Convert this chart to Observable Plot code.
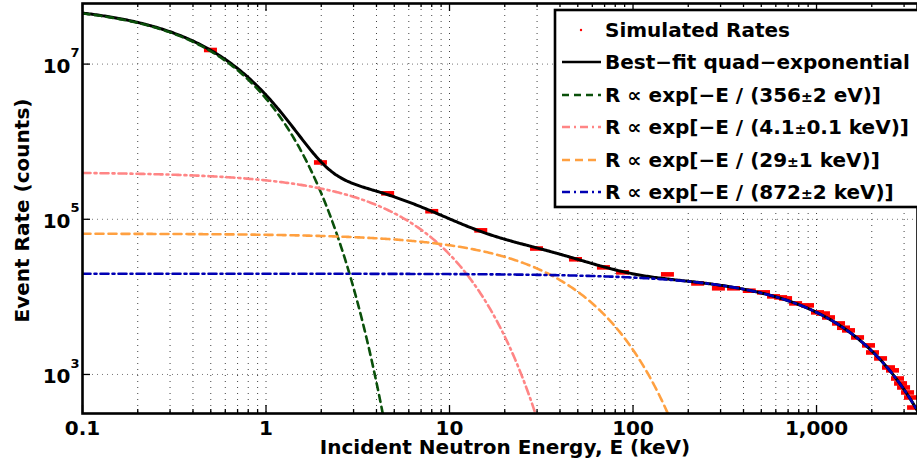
<!DOCTYPE html>
<html><head><meta charset="utf-8">
<script src="https://cdn.jsdelivr.net/npm/d3@7"></script>
<script src="https://cdn.jsdelivr.net/npm/@observablehq/plot@0.6"></script>
<style>
body{margin:0;background:#fff;}
#wrap{position:relative;width:917px;height:475px;font-family:"DejaVu Sans",sans-serif;}
#legend{position:absolute;left:0;top:0;pointer-events:none;}
</style>
</head><body><div id="wrap"></div>
<script>
// Simulated rates
const simEnergy = [0.498, 1.98, 4.6, 8.0, 14.8, 29.8, 48.6, 69, 87.7, 154, 225, 292, 353, 430, 514, 583, 637, 678, 769, 893, 1012, 1091, 1162, 1318, 1403, 1494, 1673, 1920, 2019, 2233, 2468, 2595, 2762, 2870, 2980, 3133, 3252, 3379];
const simRate   = [1.52e7, 5.4e5, 2.16e5, 1.27e5, 7.2e4, 4.2e4, 3.05e4, 2.4e4, 2.07e4, 1.95e4, 1.49e4, 1.29e4, 1.29e4, 1.2e4, 1.143e4, 1.015e4, 9850, 9560, 8240, 7770, 6310, 6100, 5430, 4550, 4000, 3700, 3000, 2370, 1920, 1610, 1230, 1130, 887, 766, 680, 586, 505, 375];

// Fit components: R = A exp(-E / T)
const compLabels    = ["R \u221D exp[\u2212E / (356\u00B12 eV)]", "R \u221D exp[\u2212E / (4.1\u00B10.1 keV)]", "R \u221D exp[\u2212E / (29\u00B11 keV)]", "R \u221D exp[\u2212E / (872\u00B12 keV)]"];
const compAmplitude = [5.96e7, 4.05e5, 6.53e4, 1.99e4];
const compDecayKeV  = [0.356, 4.1, 29, 872];
const compColors    = ["#0a500a", "#ff8585", "#ffa040", "#0000b4"];
const compDash      = ["7,5", "8,4,2,4", "8,5", "8,4,2,4"];

const seriesLabels = ["Simulated Rates", "Best\u2212fit quad\u2212exponential"];

// Ticks
const xMajorTicks  = [0.1, 1, 10, 100, 1000];
const xMajorLabels = ["0.1", "1", "10", "100", "1,000"];
const xMinorTicks  = [0.2,0.3,0.4,0.5,0.6,0.7,0.8,0.9, 2,3,4,5,6,7,8,9, 20,30,40,50,60,70,80,90, 200,300,400,500,600,700,800,900, 2000,3000];
const yTicks       = [1e3, 1e5, 1e7];
const yExponents   = ["3", "5", "7"];

const W = 917, H = 475, mL = 82, mR = 0, mT = 3, mB = 62;
const fw = W - mL - mR, fh = H - mT - mB;
const FF = "DejaVu Sans, sans-serif";

// curve sampling grid (log spaced energies)
const nS = 600;
const grid = d3.range(nS + 1).map(i => 0.1 * Math.pow(3550 / 0.1, i / nS));
const compCurves = compAmplitude.map((A, k) => grid.map(E => ({E, R: A * Math.exp(-E / compDecayKeV[k])})).filter(d => d.R > 50));
const totalCurve = grid.map(E => ({E, R: d3.sum(compAmplitude, (A, k) => A * Math.exp(-E / compDecayKeV[k]))}));
const sim = simEnergy.map((E, i) => ({E, R: simRate[i]}));

const barSymbol = {draw(ctx) { ctx.moveTo(-6.5, -2.3); ctx.lineTo(6.5, -2.3); ctx.lineTo(6.5, 2.3); ctx.lineTo(-6.5, 2.3); ctx.closePath(); }};

const font = {fontFamily: FF, fontWeight: "bold"};

const chart = Plot.plot({
  width: W, height: H,
  marginLeft: mL, marginRight: mR, marginTop: mT, marginBottom: mB,
  style: {fontFamily: FF, background: "#fff"},
  x: {type: "log", domain: [0.1, 3550], axis: null},
  y: {type: "log", domain: [314, 6.04e7], axis: null},
  marks: [
    Plot.ruleX(xMinorTicks.concat(xMajorTicks), {x: d => d, stroke: "#000", strokeOpacity: 0.75, strokeDasharray: "1,5"}),
    Plot.ruleY(yTicks, {y: d => d, stroke: "#777", strokeDasharray: "1,4"}),
    Plot.tickX(xMajorTicks, {x: d => d, insetTop: fh - 8, strokeWidth: 1.3}),
    Plot.tickX(xMinorTicks, {x: d => d, insetTop: fh - 4, strokeWidth: 1.3}),
    Plot.tickX(xMajorTicks, {x: d => d, insetBottom: fh - 8, strokeWidth: 1.3}),
    Plot.tickX(xMinorTicks, {x: d => d, insetBottom: fh - 4, strokeWidth: 1.3}),
    Plot.tickY(yTicks, {y: d => d, insetRight: fw - 8, strokeWidth: 1.3}),
    Plot.dot(sim, {x: "E", y: "R", symbol: barSymbol, fill: "#ff0000", stroke: null, clip: true}),
    Plot.line(totalCurve, {x: "E", y: "R", stroke: "#000", strokeWidth: 3, clip: true}),
    ...compCurves.map((c, k) => Plot.line(c, {x: "E", y: "R", stroke: compColors[k], strokeWidth: 2.6, strokeDasharray: compDash[k], clip: true})),
    Plot.frame({stroke: "#000", strokeWidth: 2.6}),
    Plot.text(xMajorTicks, {x: d => d, text: (d, i) => xMajorLabels[i], frameAnchor: "bottom", dy: 21, fontSize: 20, ...font, fill: "#000"}),
    Plot.text(yTicks, {y: d => d, text: () => "10", frameAnchor: "left", textAnchor: "end", dx: -12, dy: 2, fontSize: 20, ...font, fill: "#000"}),
    Plot.text(yTicks, {y: d => d, text: (d, i) => yExponents[i], frameAnchor: "left", textAnchor: "start", dx: -12, dy: -11, fontSize: 13, ...font, fill: "#000"}),
    Plot.text(["Incident Neutron Energy, E (keV)"], {text: d => d, frameAnchor: "bottom", dx: 5, dy: 40.5, fontSize: 20, ...font, fill: "#000"}),
    Plot.text(["Event Rate (counts)"], {text: d => d, frameAnchor: "left", textAnchor: "middle", rotate: -90, dx: -60, dy: 2, fontSize: 20, ...font, fill: "#000"})
  ]
});
const wrap = document.getElementById("wrap");
wrap.appendChild(chart);

// Legend overlay inside the plot area
const leg = d3.select(wrap).append("svg").attr("id", "legend").attr("width", W).attr("height", H);
leg.append("rect").attr("x", 555).attr("y", 10).attr("width", 380).attr("height", 197)
  .attr("fill", "#fff").attr("stroke", "#000").attr("stroke-width", 2.6);
const rowY = [30, 62, 95, 127, 160, 192];
const entries = [
  {label: seriesLabels[0], type: "dot"},
  {label: seriesLabels[1], type: "line", color: "#000", dash: null},
  ...compLabels.map((l, k) => ({label: l, type: "line", color: compColors[k], dash: compDash[k]}))
];
entries.forEach((e, i) => {
  const y = rowY[i];
  if (e.type === "dot") {
    leg.append("circle").attr("cx", 581).attr("cy", y).attr("r", 1.2).attr("fill", "#ff0000");
  } else {
    leg.append("line").attr("x1", 562).attr("x2", 601).attr("y1", y).attr("y2", y)
      .attr("stroke", e.color).attr("stroke-width", e.dash ? 2.6 : 2.4).attr("stroke-dasharray", e.dash);
  }
  const t = leg.append("text").attr("x", 605).attr("y", y + 7.2)
    .attr("font-family", FF).attr("font-weight", "bold").attr("font-size", 20).attr("fill", "#000");
  const parts = e.label.split("\u00B1");
  t.append("tspan").text(parts[0]);
  if (parts.length > 1) {
    t.append("tspan").attr("font-size", 14).text("\u00B1");
    t.append("tspan").text(parts[1]);
  }
});
</script>
</body></html>
